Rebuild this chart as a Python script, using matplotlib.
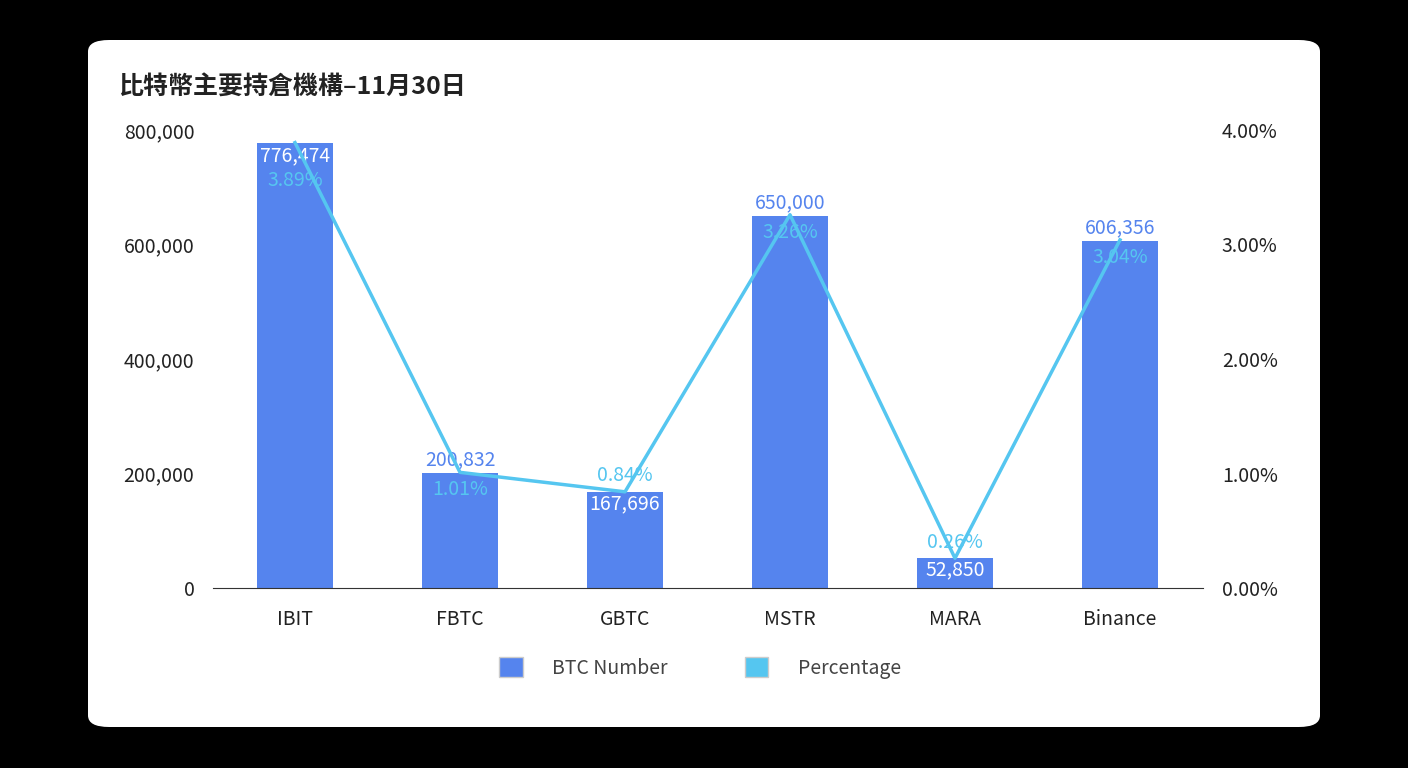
import matplotlib.pyplot as plt
from matplotlib.patches import FancyBboxPatch, Patch
import numpy as np

plt.rcParams['font.family'] = ['Noto Sans CJK TC', 'DejaVu Sans']

categories = ['IBIT', 'FBTC', 'GBTC', 'MSTR', 'MARA', 'Binance']
btc_number = [776474, 200832, 167696, 650000, 52850, 606356]
percentage = [3.89, 1.01, 0.84, 3.26, 0.26, 3.04]
inside = [True, False, True, False, True, False]

bar_col = '#5584ee'
line_col = '#55c6f0'
W, H = 1408, 768

fig = plt.figure(figsize=(W / 100, H / 100), dpi=100, facecolor='black')
card = FancyBboxPatch((88 / W, 1 - 727 / H), (1320 - 88) / W, (727 - 40) / H,
                      boxstyle='round,pad=0,rounding_size=0.015', transform=fig.transFigure,
                      facecolor='white', edgecolor='none', zorder=-10)
fig.patches.append(card)

ax = fig.add_axes([212.5 / W, 1 - 588 / H, 990 / W, 458 / H])
ax.set_facecolor('none')
x = np.arange(len(categories))
ax.bar(x, btc_number, width=0.46, color=bar_col)
ax.set_xlim(-0.5, len(categories) - 0.5)
ax.set_ylim(0, 800000)
ax.set_yticks(np.arange(0, 800001, 200000))
ax.set_yticklabels([f'{v:,}' for v in range(0, 800001, 200000)])
ax.set_xticks(x)
ax.set_xticklabels(categories)
for s in ['top', 'right', 'left']:
    ax.spines[s].set_visible(False)
ax.spines['bottom'].set_color('#333333')
ax.tick_params(axis='both', length=0, labelsize=14, colors='#222222')
ax.tick_params(axis='x', pad=15)
ax.tick_params(axis='y', pad=13)

for xi, v, ins in zip(x, btc_number, inside):
    if ins:
        ax.annotate(f'{v:,}', (xi, v), xytext=(0, -1), textcoords='offset points',
                    ha='center', va='top', color='white', fontsize=14)
    else:
        ax.annotate(f'{v:,}', (xi, v), xytext=(0, 2), textcoords='offset points',
                    ha='center', va='bottom', color=bar_col, fontsize=14)

ax2 = ax.twinx()
ax2.plot(x, percentage, color=line_col, lw=2.5)
ax2.set_ylim(0, 4)
ax2.set_yticks(np.arange(0, 4.01, 1))
ax2.set_yticklabels([f'{v:.2f}%' for v in np.arange(0, 4.01, 1)])
for s in ax2.spines.values():
    s.set_visible(False)
ax2.tick_params(axis='y', length=0, labelsize=14, colors='#222222', pad=14)
pct_off = [-20, -5, 4, -5, 4, -5]
for xi, p, off in zip(x, percentage, pct_off):
    ax2.annotate(f'{p:.2f}%', (xi, p), xytext=(0, off), textcoords='offset points',
                 ha='center', va='bottom' if off >= 0 else 'top', color=line_col, fontsize=14)

fig.text(118 / W, 1 - 88 / H, '比特幣主要持倉機構–11月30日', fontsize=18, fontweight='bold',
         color='#222222', va='center', ha='left')

handles = [Patch(facecolor=bar_col, edgecolor='#cccccc'), Patch(facecolor=line_col, edgecolor='#cccccc')]
fig.legend(handles, ['BTC Number', 'Percentage'], loc='center', bbox_to_anchor=(700 / W, 1 - 668 / H),
           ncol=2, frameon=False, fontsize=14, handlelength=1.2, handleheight=1.2,
           columnspacing=4, handletextpad=1.5, labelcolor='#444444')

fig.savefig('out.png', dpi=100, facecolor='black')
